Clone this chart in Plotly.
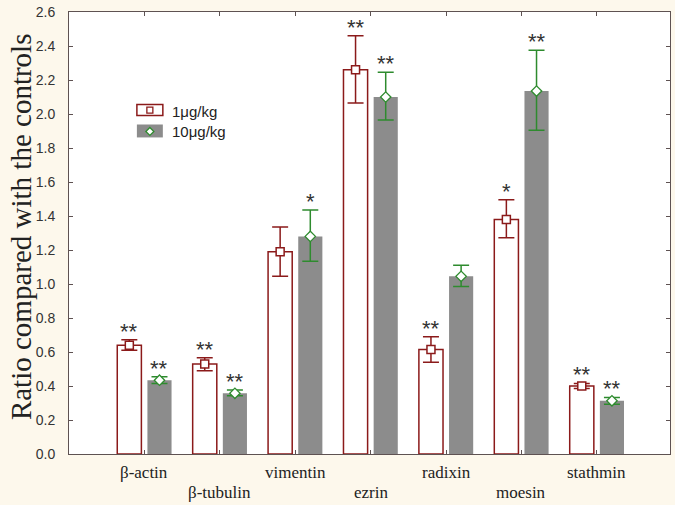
import plotly.graph_objects as go

categories = ["β-actin", "β-tubulin", "vimentin", "ezrin", "radixin", "moesin", "stathmin"]
low_vals = [0.64, 0.53, 1.19, 2.26, 0.615, 1.38, 0.40]
low_hi = [0.672, 0.566, 1.335, 2.46, 0.69, 1.495, 0.415]
low_lo = [0.61, 0.49, 1.046, 2.065, 0.54, 1.272, 0.385]
high_vals = [0.434, 0.357, 1.28, 2.10, 1.045, 2.135, 0.313]
high_hi = [0.454, 0.376, 1.435, 2.245, 1.11, 2.375, 0.333]
high_lo = [0.415, 0.343, 1.134, 1.965, 0.986, 1.905, 0.293]
low_sig = ["**", "**", "", "**", "**", "*", "**"]
high_sig = ["**", "**", "*", "**", "", "**", "**"]
series_names = ["1μg/kg", "10μg/kg"]
y_ticks = [0.0, 0.2, 0.4, 0.6, 0.8, 1.0, 1.2, 1.4, 1.6, 1.8, 2.0, 2.2, 2.4, 2.6]

RED = "#8b1a1a"
GREEN = "#2e8b2e"
GRAY = "#8c8c8c"
FRAME = "#5e5252"
PAPER = "#fdf8ec"

W, H = 675, 505
L, R, T, B = 69, 671, 10, 454


def px(x):
    return (x - L) / (R - L)


def py(y):
    return (B - y) / (B - T)


idx = list(range(len(categories)))
x_low = [i - 0.2 for i in idx]
x_high = [i + 0.2 for i in idx]

fig = go.Figure()
fig.add_trace(go.Bar(x=x_low, y=low_vals, width=0.32, marker=dict(color="white", line=dict(color=RED, width=1.5)),
                     showlegend=False, hoverinfo="skip"))
fig.add_trace(go.Bar(x=x_high, y=high_vals, width=0.32, marker=dict(color=GRAY, line=dict(width=0)),
                     showlegend=False, hoverinfo="skip"))
fig.add_trace(go.Scatter(x=x_low, y=low_vals, mode="markers",
                         marker=dict(symbol="square", size=8, color="white", line=dict(color=RED, width=1.5)),
                         error_y=dict(type="data", symmetric=False,
                                      array=[h - v for h, v in zip(low_hi, low_vals)],
                                      arrayminus=[v - l for v, l in zip(low_vals, low_lo)],
                                      color=RED, thickness=1.5, width=8),
                         showlegend=False))
fig.add_trace(go.Scatter(x=x_high, y=high_vals, mode="markers",
                         marker=dict(symbol="diamond", size=8, color="white", line=dict(color=GREEN, width=1.3)),
                         error_y=dict(type="data", symmetric=False,
                                      array=[h - v for h, v in zip(high_hi, high_vals)],
                                      arrayminus=[v - l for v, l in zip(high_vals, high_lo)],
                                      color=GREEN, thickness=1.5, width=8),
                         showlegend=False))

annotations = []
for xs, his, sigs in [(x_low, low_hi, low_sig), (x_high, high_hi, high_sig)]:
    for x, h, s in zip(xs, his, sigs):
        if s:
            annotations.append(dict(x=x, y=h, xref="x", yref="y", text=s, showarrow=False,
                                    xanchor="center", yanchor="bottom", yshift=-6,
                                    font=dict(family="Liberation Sans", size=22, color="#333333")))

for i, c in enumerate(categories):
    annotations.append(dict(x=i, y=py(473 if i % 2 == 0 else 493), xref="x", yref="paper", text=c,
                            showarrow=False, xanchor="center", yanchor="middle",
                            font=dict(family="Liberation Serif", size=17, color="#222222")))

annotations.append(dict(x=px(21), y=py(226), xref="paper", yref="paper", text="Ratio compared with the controls",
                        textangle=-90, showarrow=False, xanchor="center", yanchor="middle",
                        font=dict(family="Liberation Serif", size=29, color="#222222")))

# legend
cx, cy = 150, 130
shapes = [
    dict(type="rect", xref="paper", yref="paper", x0=px(137), x1=px(163), y0=py(114), y1=py(103),
         fillcolor="white", line=dict(color=RED, width=1.5)),
    dict(type="rect", xref="paper", yref="paper", x0=px(137), x1=px(163), y0=py(136), y1=py(123),
         fillcolor=GRAY, line=dict(width=0)),
    dict(type="rect", xref="paper", yref="paper", x0=px(147), x1=px(153), y0=py(111.5), y1=py(105.5),
         fillcolor="white", line=dict(color=RED, width=1.3)),
    dict(type="path", xref="paper", yref="paper",
         path=f"M {px(cx - 4)} {py(cy)} L {px(cx)} {py(cy - 4)} L {px(cx + 4)} {py(cy)} L {px(cx)} {py(cy + 4)} Z",
         fillcolor="white", line=dict(color=GREEN, width=1.3)),
]
annotations.append(dict(x=px(170), y=py(110), xref="paper", yref="paper", text=series_names[0], showarrow=False,
                        xanchor="left", yanchor="middle",
                        font=dict(family="Liberation Sans", size=15, color="#222222")))
annotations.append(dict(x=px(170), y=py(130), xref="paper", yref="paper", text=series_names[1], showarrow=False,
                        xanchor="left", yanchor="middle",
                        font=dict(family="Liberation Sans", size=15, color="#222222")))

fig.update_layout(
    width=W, height=H,
    margin=dict(l=L, r=W - R, t=T, b=H - B, pad=0),
    paper_bgcolor=PAPER, plot_bgcolor="white",
    barmode="overlay",
    showlegend=False,
    annotations=annotations,
    shapes=shapes,
    xaxis=dict(range=[-1, 6.97], tickmode="array", tickvals=idx, ticks="inside", ticklen=4,
               tickcolor=FRAME, showticklabels=False, showgrid=False, zeroline=False,
               showline=True, linecolor=FRAME, linewidth=1, mirror="ticks"),
    yaxis=dict(range=[0, 2.6], tickmode="array", tickvals=y_ticks, tickformat=".1f", ticks="inside", ticklen=4,
               tickcolor=FRAME, showgrid=False, zeroline=False, showline=True, linecolor=FRAME, linewidth=1,
               mirror="ticks", tickfont=dict(family="Liberation Sans", size=14, color="#333333"),
               ticklabelstandoff=10),
)

fig.write_html("out.html", config={"displayModeBar": False},
               post_script="document.body.style.margin='0';document.body.style.overflow='hidden';")
